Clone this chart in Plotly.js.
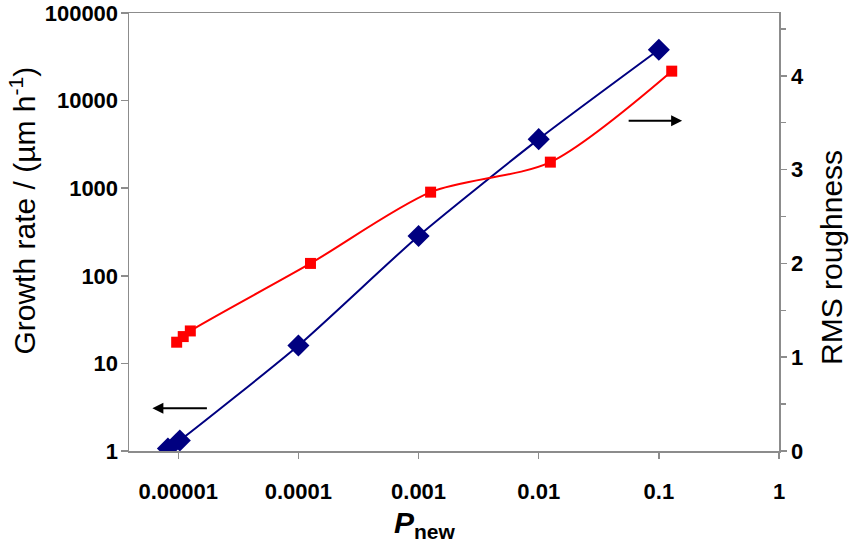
<!DOCTYPE html>
<html>
<head>
<meta charset="utf-8">
<script src="https://cdn.plot.ly/plotly-3.0.1.min.js"></script>
<style>html,body{margin:0;padding:0;background:#fff;}#chart{width:850px;height:542px;}</style>
</head>
<body>
<div id="chart"></div>
<script>
// Growth rate (left axis, log) vs P_new
const growthP = [0.0000082, 0.0000103, 0.0001, 0.001, 0.01, 0.1];
const growthRate = [1.07, 1.32, 16, 285, 3630, 38000];
// RMS roughness (right axis) vs P_new
const roughP = [0.0000097, 0.000011, 0.0000126, 0.000126, 0.00126, 0.0125, 0.128];
const roughness = [1.16, 1.22, 1.28, 2.0, 2.76, 3.08, 4.05];

const xTickVals = [0.00001, 0.0001, 0.001, 0.01, 0.1, 1];
const xTickText = ["0.00001", "0.0001", "0.001", "0.01", "0.1", "1"];
const yTickVals = [1, 10, 100, 1000, 10000, 100000];
const yTickText = ["1", "10", "100", "1000", "10000", "100000"];
const y2TickVals = [0, 1, 2, 3, 4];
const y2TickText = ["0", "1", "2", "3", "4"];

const yTitle = "Growth rate / (µm h<sup>-1</sup>)";
const y2Title = "RMS roughness";
const xTitle = "<b><i>P</i></b><b><sub>new</sub></b>";

const axisColor = "#8c8c8c";
const FAM = "Liberation Sans, Arial, sans-serif";
const tickFont = {family: FAM, size: 22, color: "#000", weight: "bold"};

const traces = [
  {
    x: growthP, y: growthRate, type: "scatter", mode: "lines+markers",
    line: {color: "#000080", width: 2, shape: "spline", smoothing: 0.6},
    marker: {symbol: "diamond", size: 17, color: "#000080"},
    yaxis: "y", name: "Growth rate", showlegend: false
  },
  {
    x: roughP, y: roughness, type: "scatter", mode: "lines+markers",
    line: {color: "#ff0000", width: 2, shape: "spline", smoothing: 0.8},
    marker: {symbol: "square", size: 11, color: "#ff0000"},
    yaxis: "y2", name: "RMS roughness", showlegend: false
  }
];

const layout = {
  width: 850, height: 542,
  margin: {l: 128.5, r: 71, t: 13.3, b: 91.3, pad: 0},
  paper_bgcolor: "#fff", plot_bgcolor: "#fff",
  showlegend: false,
  xaxis: {
    type: "log", range: [-5.41, 0],
    tickvals: xTickVals, ticktext: xTickText,
    showline: true, linecolor: axisColor, linewidth: 1.5, mirror: true,
    ticks: "outside", ticklen: 6, tickcolor: axisColor, tickwidth: 1.5,
    ticklabelstandoff: 14,
    showgrid: false, zeroline: false,
    tickfont: tickFont
  },
  yaxis: {
    type: "log", range: [0, 5],
    tickvals: yTickVals, ticktext: yTickText,
    showline: true, linecolor: axisColor, linewidth: 1.5,
    ticks: "outside", ticklen: 7, tickcolor: axisColor, tickwidth: 1.5,
    ticklabelstandoff: -2,
    showgrid: false, zeroline: false,
    tickfont: tickFont
  },
  yaxis2: {
    overlaying: "y", side: "right", anchor: "x",
    range: [0, 4.67],
    tickvals: y2TickVals, ticktext: y2TickText,
    showline: true, linecolor: axisColor, linewidth: 1.5,
    ticks: "outside", ticklen: 6, tickcolor: axisColor, tickwidth: 1.5,
    minor: {dtick: 0.5, ticks: "outside", ticklen: 5, tickcolor: axisColor, tickwidth: 1.5, showgrid: false},
    showgrid: false, zeroline: false,
    tickfont: tickFont
  },
  annotations: [
    {xref: "paper", yref: "paper", x: 0.036, y: 0.0976, ax: 56, ay: 0, axref: "pixel", ayref: "pixel",
     showarrow: true, arrowhead: 2, arrowsize: 1, arrowwidth: 2.2, arrowcolor: "#000", text: ""},
    {xref: "paper", yref: "paper", x: 0.851, y: 0.754, ax: -55, ay: 0, axref: "pixel", ayref: "pixel",
     showarrow: true, arrowhead: 2, arrowsize: 1, arrowwidth: 2.2, arrowcolor: "#000", text: ""},
    {xref: "paper", yref: "paper", x: (22 - 128.5) / 650.5, y: 1 - (211 - 13.3) / 437.4,
     xanchor: "center", yanchor: "middle", textangle: -90, showarrow: false,
     text: yTitle, font: {family: FAM, size: 30, color: "#000"}},
    {xref: "paper", yref: "paper", x: (831 - 128.5) / 650.5, y: 1 - (257 - 13.3) / 437.4,
     xanchor: "center", yanchor: "middle", textangle: -90, showarrow: false,
     text: y2Title, font: {family: FAM, size: 30, color: "#000"}},
    {xref: "paper", yref: "paper", x: (425 - 128.5) / 650.5, y: 1 - (524 - 13.3) / 437.4,
     xanchor: "center", yanchor: "middle", showarrow: false,
     text: xTitle, font: {family: FAM, size: 30, color: "#000"}}
  ]
};

Plotly.newPlot("chart", traces, layout, {displayModeBar: false, staticPlot: true});
</script>
</body>
</html>
